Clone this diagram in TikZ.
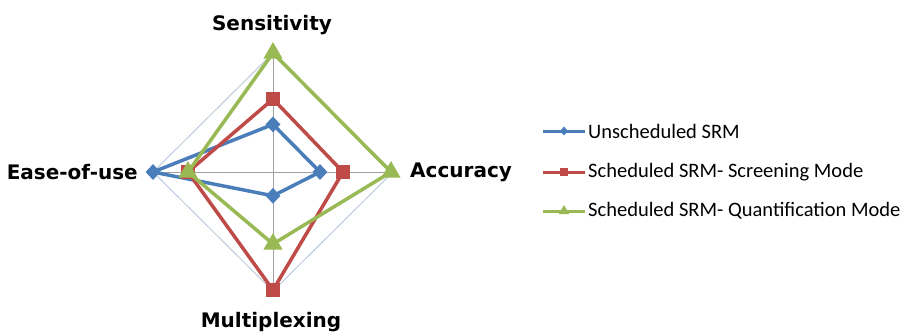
\documentclass[tikz,border=0pt]{standalone}
\usepackage{fontspec}
\setmainfont{Carlito}
\newfontfamily\axisfont{DejaVu Sans}
\usetikzlibrary{shapes.geometric}
\definecolor{sblue}{HTML}{4A7EBB}
\definecolor{sred}{HTML}{BE4B48}
\definecolor{sgreen}{HTML}{98B954}
\definecolor{gridc}{HTML}{BCCBDD}
\definecolor{axisc}{HTML}{A0A0A0}
\begin{document}
\begin{tikzpicture}[x=1pt,y=-1pt,
  axislabel/.style={font=\axisfont\bfseries\fontsize{20}{24}\selectfont, inner sep=0},
  legtext/.style={font=\fontsize{20.5}{24}\selectfont, anchor=west, inner sep=0},
  bmark/.style={diamond, fill=sblue, inner sep=0, minimum width=15pt, minimum height=16pt},
  rmark/.style={rectangle, fill=sred, inner sep=0, minimum size=14pt},
  gmark/.style={regular polygon, regular polygon sides=3, fill=sgreen, inner sep=0, minimum size=22pt},
  bsmall/.style={diamond, fill=sblue, inner sep=0, minimum width=8pt, minimum height=9pt},
  rsmall/.style={rectangle, fill=sred, inner sep=0, minimum size=8pt},
  gsmall/.style={regular polygon, regular polygon sides=3, fill=sgreen, inner sep=0, minimum size=12pt},
  series/.style={line width=3.5pt, line join=miter},
  legline/.style={line width=3pt},
  gridline/.style={draw=gridc, line width=1pt},
  axisline/.style={draw=axisc, line width=0.8pt}
]
\useasboundingbox (0,0) rectangle (903,333);
% grid
\coordinate (C) at (273,172);
\coordinate (GS) at (273,53);
\coordinate (GA) at (393,172);
\coordinate (GM) at (273,291);
\coordinate (GE) at (153,172);
\draw[gridline] (GS) -- (GA) -- (GM) -- (GE) -- cycle;
\draw[axisline] (C) -- (GS);
\draw[axisline] (C) -- (GA);
\draw[axisline] (C) -- (GM);
\draw[axisline] (C) -- (GE);
% blue series
\coordinate (bS) at (273,124.4);
\coordinate (bA) at (320,172);
\coordinate (bM) at (273,195.8);
\coordinate (bE) at (153,172);
\draw[series, sblue] (bS) -- (bA) -- (bM) -- (bE) -- cycle;
\node[bmark] (bSm) at (bS) {};
\node[bmark] (bAm) at (bA) {};
\node[bmark] (bMm) at (bM) {};
\node[bmark] (bEm) at (bE) {};
% red series
\coordinate (rS) at (273,99);
\coordinate (rA) at (343,172);
\coordinate (rM) at (273,290);
\coordinate (rE) at (188,172);
\draw[series, sred] (rS) -- (rA) -- (rM) -- (rE) -- cycle;
\node[rmark] (rSm) at (rS) {};
\node[rmark] (rAm) at (rA) {};
\node[rmark] (rMm) at (rM) {};
\node[rmark] (rEm) at (rE) {};
% green series
\coordinate (gS) at (273,53);
\coordinate (gA) at (391,172);
\coordinate (gM) at (273,244);
\coordinate (gE) at (188,172);
\draw[series, sgreen] (gS) -- (gA) -- (gM) -- (gE) -- cycle;
\node[gmark] (gSm) at (gS) {};
\node[gmark] (gAm) at (gA) {};
\node[gmark] (gMm) at (gM) {};
\node[gmark] (gEm) at (gE) {};
% axis labels
\node[axislabel] (lS) at (272,25) {Sensitivity};
\node[axislabel, anchor=west] (lA) at (410,172) {Accuracy};
\node[axislabel, anchor=east] (lE) at (138,172) {Ease-of-use};
\node[axislabel] (lM) at (271,322) {Multiplexing};
% legend
\coordinate (l1a) at (543,131); \coordinate (l1b) at (585,131);
\coordinate (l2a) at (543,172); \coordinate (l2b) at (585,172);
\coordinate (l3a) at (543,211); \coordinate (l3b) at (585,211);
\draw[legline, sblue] (l1a) -- (l1b);
\node[bsmall] (k1) at (564,131) {};
\draw[legline, sred] (l2a) -- (l2b);
\node[rsmall] (k2) at (564,172) {};
\draw[legline, sgreen] (l3a) -- (l3b);
\node[gsmall] (k3) at (564,211) {};
\node[legtext] (t1) at (588,131) {Unscheduled SRM};
\node[legtext] (t2) at (588,172) {Scheduled SRM- Screening Mode};
\node[legtext] (t3) at (588,211) {Scheduled SRM- Quantification Mode};
\end{tikzpicture}
\end{document}
